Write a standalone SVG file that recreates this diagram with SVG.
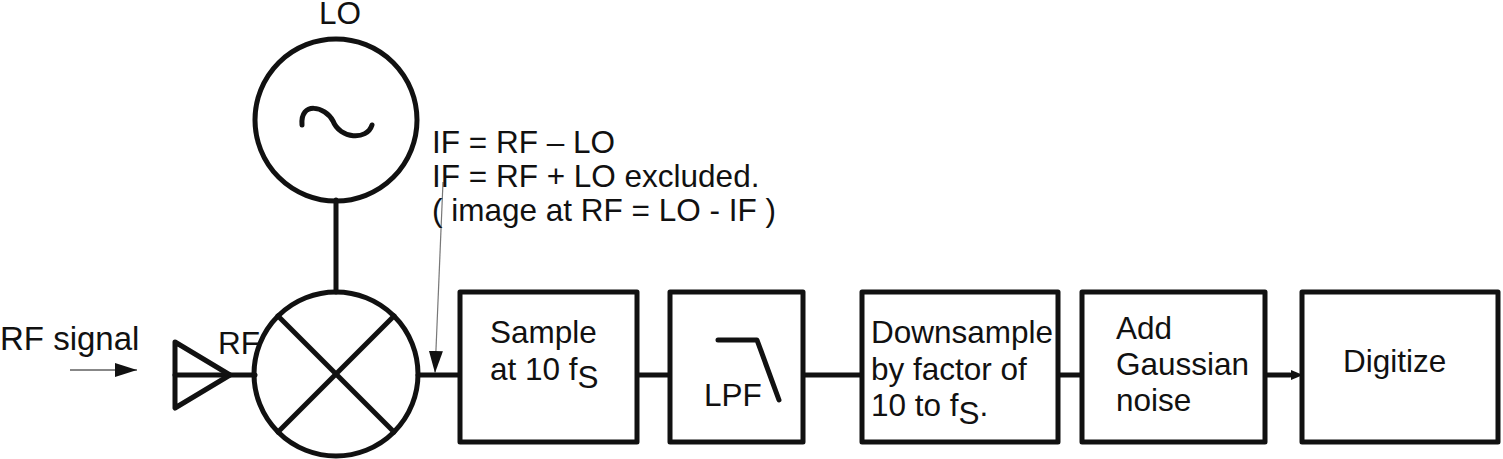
<svg xmlns="http://www.w3.org/2000/svg" width="1503" height="459" viewBox="0 0 1503 459">
<defs>
<style>
.s{fill:none;stroke:#111;stroke-width:5;stroke-linejoin:round;stroke-linecap:round}
.t{font-family:"Liberation Sans",Arial,sans-serif;font-size:31.5px;fill:#111}
.b{fill:#fff;stroke:#111;stroke-width:5;stroke-linejoin:round}
</style>
<marker id="a" markerWidth="12" markerHeight="10" refX="11" refY="5" orient="auto" markerUnits="userSpaceOnUse"><path d="M0,0 L12,5 L0,10z" fill="#111"/></marker>
<marker id="a2" markerWidth="22" markerHeight="14" refX="22" refY="7" orient="auto" markerUnits="userSpaceOnUse"><path d="M0,0 L22,7 L0,14z" fill="#111"/></marker>
</defs>
<g id="connectors">
<line class="s" x1="336" y1="200" x2="336" y2="292"/>
<line class="s" x1="175" y1="375" x2="255" y2="375"/>
<line class="s" x1="418" y1="375" x2="460" y2="375"/>
<line class="s" x1="637" y1="375" x2="670" y2="375"/>
<line class="s" x1="803" y1="375" x2="862" y2="375"/>
<line class="s" x1="1058" y1="375" x2="1082" y2="375"/>
<line class="s" x1="1265" y1="375" x2="1290" y2="375"/>
<line x1="1288" y1="375" x2="1302" y2="375" stroke="#111" stroke-width="2" marker-end="url(#a)"/>
<line x1="70" y1="370" x2="137" y2="370" stroke="#111" stroke-width="1" marker-end="url(#a2)"/>
<line x1="443" y1="182" x2="435" y2="373" stroke="#777" stroke-width="1.2" marker-end="url(#a2)"/>
</g>
<g id="antenna"><path class="s" d="M175,342 L230,375 L175,408 Z"/></g>
<g id="lo">
<circle class="s" cx="336" cy="120" r="81"/>
<path class="s" d="M302,125 C300,101 325,106 333,121 C340,139 367,141 372,125"/>
<text class="t" x="340" y="24" text-anchor="middle">LO</text>
</g>
<g id="mixer">
<circle class="s" cx="336" cy="374" r="82"/>
<line class="s" x1="278" y1="316" x2="394" y2="432"/>
<line class="s" x1="394" y1="316" x2="278" y2="432"/>
<text class="t" x="218" y="354">RF</text>
</g>
<text class="t" x="0" y="350" style="font-size:33px">RF signal</text>
<g id="note" class="t">
<text x="432" y="153">IF = RF – LO</text>
<text x="432" y="187">IF = RF + LO excluded.</text>
<text x="432" y="221">( image at RF = LO - IF )</text>
</g>
<g id="sample"><rect class="b" x="460" y="292" width="177" height="150"/>
<text class="t" x="490" y="343">Sample</text><text class="t" x="490" y="380">at 10 f<tspan dy="8">S</tspan></text></g>
<g id="lpf"><rect class="b" x="670" y="292" width="133" height="150"/>
<path class="s" d="M718,340 L757,340 L779,400" stroke-linecap="butt"/>
<text class="t" x="704" y="406">LPF</text></g>
<g id="downsample"><rect class="b" x="862" y="292" width="196" height="150"/>
<text class="t" x="871" y="343">Downsample</text><text class="t" x="871" y="380">by factor of</text><text class="t" x="871" y="416">10 to f<tspan dy="8">S</tspan><tspan dy="-8">.</tspan></text></g>
<g id="noise"><rect class="b" x="1082" y="292" width="183" height="150"/>
<text class="t" x="1116" y="339">Add</text><text class="t" x="1116" y="375">Gaussian</text><text class="t" x="1116" y="411">noise</text></g>
<g id="digitize"><rect class="b" x="1302" y="292" width="196" height="150"/>
<text class="t" x="1343" y="372">Digitize</text></g>
</svg>
